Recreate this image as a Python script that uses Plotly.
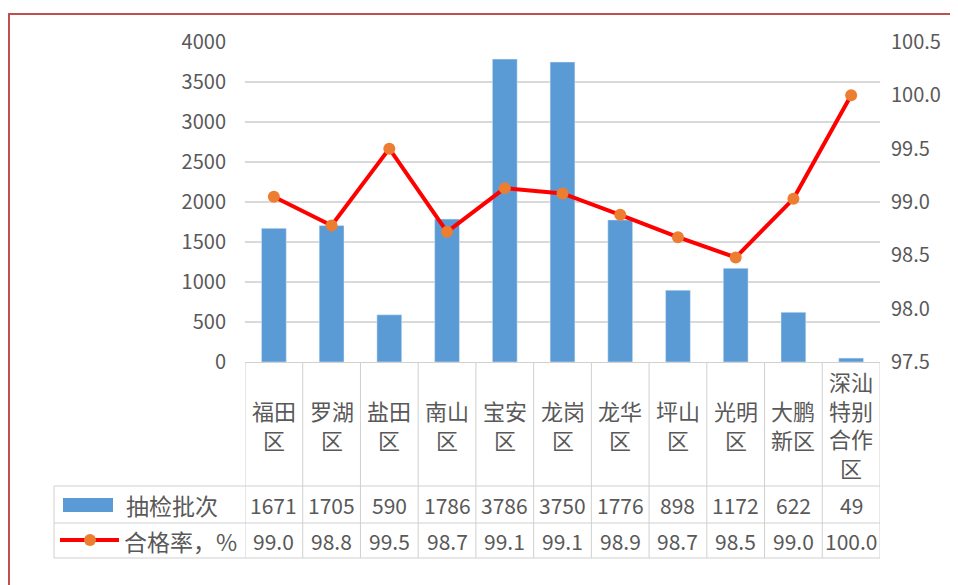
import plotly.graph_objects as go

districts = ["福田区", "罗湖区", "盐田区", "南山区", "宝安区", "龙岗区", "龙华区", "坪山区", "光明区", "大鹏新区", "深汕特别合作区"]
header_labels = ["福田<br>区", "罗湖<br>区", "盐田<br>区", "南山<br>区", "宝安<br>区", "龙岗<br>区", "龙华<br>区", "坪山<br>区", "光明<br>区", "大鹏<br>新区", "深汕<br>特别<br>合作<br>区"]
batches = [1671, 1705, 590, 1786, 3786, 3750, 1776, 898, 1172, 622, 49]
pass_rate = [99.05, 98.78, 99.50, 98.72, 99.13, 99.08, 98.88, 98.67, 98.48, 99.03, 100.0]
pass_rate_label = ["99.0", "98.8", "99.5", "98.7", "99.1", "99.1", "98.9", "98.7", "98.5", "99.0", "100.0"]
series_names = ["抽检批次", "合格率，%"]
left_ticks = [0, 500, 1000, 1500, 2000, 2500, 3000, 3500, 4000]
right_ticks = [97.5, 98.0, 98.5, 99.0, 99.5, 100.0, 100.5]

BAR_COLOR = "#5B9BD5"
LINE_COLOR = "#FF0000"
MARKER_COLOR = "#ED7D31"
GRID = "#D9D9D9"
TABLE_LINE = "#D0D0D0"
TXT = "#595959"
FONT = "Noto Sans CJK SC"

fig = go.Figure()
fig.add_trace(go.Bar(x=districts, y=batches, name=series_names[0], marker_color=BAR_COLOR, yaxis="y"))
fig.add_trace(go.Scatter(x=districts, y=pass_rate, name=series_names[1], mode="lines+markers",
                         line=dict(color=LINE_COLOR, width=4),
                         marker=dict(color=MARKER_COLOR, size=12), yaxis="y2"))

n = len(districts)
OFF = 8  # page body margin
# plot area in page pixels: x 245..880, y 42..362
L, R, T, B = 245 - OFF, 880 - OFF, 42 - OFF, 362 - OFF
def px(x):
    return (x - OFF - L) / (R - L)
def py(y):
    return (B - (y - OFF)) / (B - T)

shapes = []
annotations = []
y_head = py(486)
y_row = py(523)
y_bot = py(558)
for i in range(n + 1):
    shapes.append(dict(type="line", xref="x", yref="paper", x0=i - 0.5, x1=i - 0.5, y0=0, y1=y_bot,
                       line=dict(color=TABLE_LINE, width=1)))
for yy in (y_head, y_row, y_bot):
    shapes.append(dict(type="line", xref="paper", yref="paper", x0=px(54), x1=1, y0=yy, y1=yy,
                       line=dict(color=TABLE_LINE, width=1)))
shapes.append(dict(type="line", xref="paper", yref="paper", x0=px(54), x1=px(54), y0=y_head, y1=y_bot,
                   line=dict(color=TABLE_LINE, width=1)))
# legend keys
shapes.append(dict(type="rect", xref="paper", yref="paper", x0=px(63), x1=px(113), y0=py(512), y1=py(498),
                   fillcolor=BAR_COLOR, line=dict(width=0)))
shapes.append(dict(type="line", xref="paper", yref="paper", x0=px(60), x1=px(119), y0=py(540), y1=py(540),
                   line=dict(color=LINE_COLOR, width=4)))
shapes.append(dict(type="circle", xref="paper", yref="paper", x0=px(84), x1=px(96), y0=py(546), y1=py(534),
                   fillcolor=MARKER_COLOR, line=dict(width=0)))
# outer frame: only top and left edges are visible
FRAME = "#C0504D"
shapes.append(dict(type="line", xref="paper", yref="paper", x0=px(8), x1=px(970), y0=py(14), y1=py(14),
                   line=dict(color=FRAME, width=2), layer="below"))
shapes.append(dict(type="line", xref="paper", yref="paper", x0=px(9), x1=px(9), y0=py(13), y1=py(600),
                   line=dict(color=FRAME, width=2), layer="below"))

for i, d in enumerate(districts):
    annotations.append(dict(x=d, xref="x", y=py(424), yref="paper", text=header_labels[i], showarrow=False,
                            font=dict(family=FONT, size=22, color=TXT), yanchor="middle", xanchor="center"))
    annotations.append(dict(x=d, xref="x", y=py(505), yref="paper", text=str(batches[i]), showarrow=False,
                            font=dict(family=FONT, size=21, color=TXT), yanchor="middle", xanchor="center"))
    annotations.append(dict(x=d, xref="x", y=py(541), yref="paper", text=pass_rate_label[i], showarrow=False,
                            font=dict(family=FONT, size=21, color=TXT), yanchor="middle", xanchor="center"))
annotations.append(dict(x=px(124), xref="paper", y=py(505), yref="paper", text=series_names[0], showarrow=False,
                        font=dict(family=FONT, size=23, color=TXT), yanchor="middle", xanchor="left"))
annotations.append(dict(x=px(122), xref="paper", y=py(541), yref="paper", text=series_names[1], showarrow=False,
                        font=dict(family=FONT, size=23, color=TXT), yanchor="middle", xanchor="left"))

fig.update_layout(
    width=958, height=585,
    margin=dict(l=L, r=958 - R, t=T, b=585 - B),
    paper_bgcolor="white", plot_bgcolor="white",
    showlegend=False, bargap=0.57,
    font=dict(family=FONT, color=TXT),
    xaxis=dict(type="category", range=[-0.5, n - 0.5], showticklabels=False, showgrid=False,
               showline=True, linecolor=TABLE_LINE, ticks="", fixedrange=True),
    yaxis=dict(range=[0, 4000], tickvals=left_ticks, showgrid=True, gridcolor=GRID, gridwidth=1.5,
               zeroline=False, showline=False, ticks="", ticklabelstandoff=18,
               tickfont=dict(family=FONT, size=20, color=TXT)),
    yaxis2=dict(range=[97.5, 100.5], tickvals=right_ticks, tickformat=".1f", overlaying="y", side="right",
                showgrid=False, zeroline=False, showline=False, ticks="", ticklabelstandoff=10,
                tickfont=dict(family=FONT, size=20, color=TXT)),
    shapes=shapes, annotations=annotations,
)

fig.write_html("out.html")
